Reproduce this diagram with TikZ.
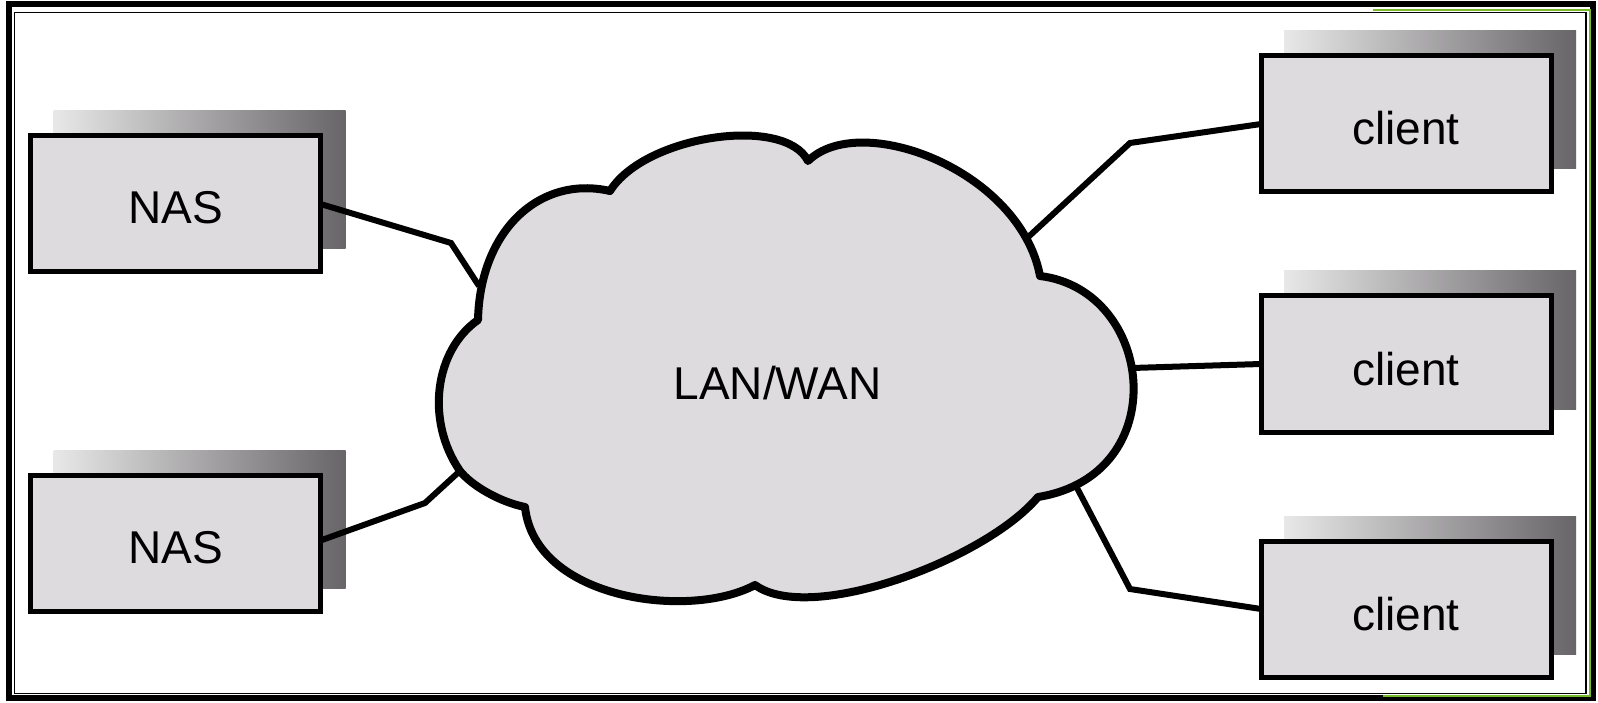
\documentclass[tikz,border=0pt]{standalone}
\usepackage{fontspec}
\setmainfont{Liberation Sans}
\usetikzlibrary{backgrounds}
\definecolor{boxfill}{RGB}{221,219,222}
\definecolor{shadeL}{RGB}{232,232,232}
\definecolor{shadeR}{RGB}{104,101,104}
\definecolor{selgreen}{RGB}{118,186,44}
\begin{document}
\begin{tikzpicture}[x=1pt,y=-1pt,
  device/.style={draw=black, line width=5pt, fill=boxfill, minimum width=290pt,
    minimum height=136pt, inner sep=0pt, outer sep=0pt,
    font=\fontsize{46}{50}\selectfont, text height=40pt, text depth=0pt},
  clientbox/.style={device, text height=42pt},
  link/.style={line width=6pt, line join=miter},
  cloudline/.style={line width=8pt, fill=boxfill, line join=round},
  shadowbox/.style={left color=shadeL, right color=shadeR}]
\useasboundingbox (0,0) rectangle (1598,703);
\begin{scope}[on background layer]
  \fill[white] (0,0) rectangle (1598,703);
\end{scope}

% frame
\draw[line width=6pt] (9,4) rectangle (1593,698);
\draw[line width=1.8pt] (14.5,12.5) rectangle (1586,693.5);
\draw[selgreen, line width=2.6pt] (1373,10) -- (1589.8,10) -- (1589.8,696) -- (1383,696);

% boxes
\node[device] (nas1) at (175.5,204) {NAS};
\node[device] (nas2) at (175.5,543.5) {NAS};
\node[clientbox] (cl1) at (1406,124) {client};
\node[clientbox] (cl2) at (1406,364) {client};
\node[clientbox] (cl3) at (1406,609) {client};

% shadows
\begin{scope}[on background layer]
  \foreach \n in {nas1,nas2,cl1,cl2,cl3}
    \shade[shadowbox] ([shift={(23,-23)}]\n.south west) rectangle ([shift={(25,-25)}]\n.north east);
\end{scope}

% connectors
\coordinate (k1) at (451,243);  \coordinate (e1) at (479,286);
\coordinate (k2) at (425,503);  \coordinate (e2) at (461,470);
\coordinate (k3) at (1130,143); \coordinate (e3) at (1025,240);
\coordinate (e4) at (1132,368);
\coordinate (k5) at (1130,589); \coordinate (e5) at (1076,486);
\draw[link] (nas1.east) -- (k1) -- (e1);
\draw[link] ([yshift=3pt]nas2.east) -- (k2) -- (e2);
\draw[link] (cl1.west) -- (k3) -- (e3);
\draw[link] (cl2.west) -- (e4);
\draw[link] (cl3.west) -- (k5) -- (e5);

% cloud
\draw[cloudline] (478,320)
  .. controls (480,230) and (540,175) .. (610,191)
  .. controls (645,135) and (785,115) .. (808,161)
  .. controls (860,110) and (1020,170) .. (1040,276)
  .. controls (1155,290) and (1175,475) .. (1038,497)
  .. controls (985,560) and (810,625) .. (755,585)
  .. controls (690,620) and (535,600) .. (525,507)
  .. controls (500,502) and (472,486) .. (460,471)
  .. controls (425,420) and (435,350) .. (478,320)
  -- cycle;
\node[font=\fontsize{46}{50}\selectfont, inner sep=0pt] (lan) at (777.5,383.5) {LAN/WAN};
\end{tikzpicture}
\end{document}
